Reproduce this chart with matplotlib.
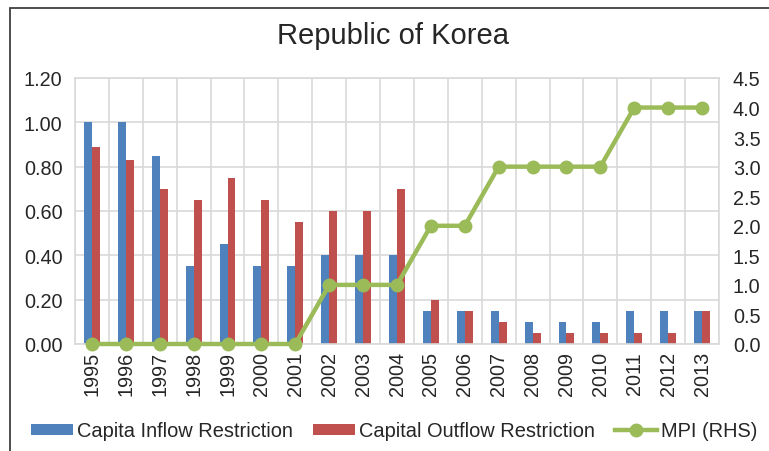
import matplotlib
matplotlib.use("Agg")
import matplotlib.pyplot as plt
from matplotlib.patches import Rectangle
import numpy as np

plt.rcParams['font.family'] = ['Liberation Sans', 'DejaVu Sans']

years = ["1995", "1996", "1997", "1998", "1999", "2000", "2001", "2002", "2003", "2004",
         "2005", "2006", "2007", "2008", "2009", "2010", "2011", "2012", "2013"]
inflow = [1.00, 1.00, 0.85, 0.35, 0.45, 0.35, 0.35, 0.40, 0.40, 0.40,
          0.15, 0.15, 0.15, 0.10, 0.10, 0.10, 0.15, 0.15, 0.15]
outflow = [0.89, 0.83, 0.70, 0.65, 0.75, 0.65, 0.55, 0.60, 0.60, 0.70,
           0.20, 0.15, 0.10, 0.05, 0.05, 0.05, 0.05, 0.05, 0.15]
mpi = [0, 0, 0, 0, 0, 0, 0, 1, 1, 1, 2, 2, 3, 3, 3, 3, 4, 4, 4]

left_ticks = [0.0, 0.2, 0.4, 0.6, 0.8, 1.0, 1.2]
right_ticks = [0.0, 0.5, 1.0, 1.5, 2.0, 2.5, 3.0, 3.5, 4.0, 4.5]

BLUE = "#4F81BD"
RED = "#C0504D"
GREEN = "#9BBB59"
GRID = "#D9D9D9"
TXT = "#262626"

W, H = 769, 452
fig = plt.figure(figsize=(W / 100, H / 100), dpi=100)
ax = fig.add_axes([75 / W, 1 - 345 / H, (719 - 75) / W, (345 - 79) / H])

x = np.arange(len(years))
bw = 0.235
ax.bar(x - bw / 2, inflow, width=bw, color=BLUE, zorder=2, label="Capita Inflow Restriction")
ax.bar(x + bw / 2, outflow, width=bw, color=RED, zorder=2, label="Capital Outflow Restriction")

ax.set_xlim(-0.5, len(years) - 0.5)
ax.set_ylim(0, 1.2)
ax.set_yticks(left_ticks)
ax.set_yticklabels([f"{v:.2f}" for v in left_ticks])
ax.set_xticks(x)
ax.set_xticklabels(years, rotation=90)
ax.set_xticks(np.arange(-0.5, len(years), 1.0), minor=True)
ax.grid(True, axis='y', which='major', color=GRID, linewidth=1.2, zorder=0)
ax.grid(True, axis='x', which='minor', color=GRID, linewidth=1.2, zorder=0)
ax.grid(False, axis='x', which='major')
ax.set_axisbelow(True)
ax.tick_params(axis='both', which='both', length=0, labelsize=14.3, colors=TXT)
ax.tick_params(axis='y', pad=9)
ax.tick_params(axis='x', pad=5)
for s in ax.spines.values():
    s.set_color(GRID)
    s.set_linewidth(1.2)

ax2 = ax.twinx()
ax2.plot(x, mpi, color=GREEN, linewidth=3.2, marker='o', markersize=9,
         clip_on=False, zorder=3, label="MPI (RHS)")
ax2.set_ylim(0, 4.5)
ax2.set_yticks(right_ticks)
ax2.set_yticklabels([f"{v:.1f}" for v in right_ticks])
ax2.tick_params(axis='y', length=0, labelsize=14.3, colors=TXT, pad=10)
for s in ax2.spines.values():
    s.set_visible(False)

fig.text(393 / W, 1 - 36 / H, "Republic of Korea", ha='center', va='center',
         fontsize=21, color=TXT)

h1, l1 = ax.get_legend_handles_labels()
h2, l2 = ax2.get_legend_handles_labels()
leg = fig.legend(h1 + h2, l1 + l2, loc='center', bbox_to_anchor=(394 / W, 1 - 432 / H),
                 ncol=3, frameon=False, fontsize=14.4, handlelength=2.1, handleheight=0.5,
                 handletextpad=0.2, columnspacing=1.0, borderaxespad=0, borderpad=0)
for t in leg.get_texts():
    t.set_color(TXT)

fig.patches.append(Rectangle((9.5 / W, -0.1), 1.2, 1 - 8.5 / H + 0.1,
                             transform=fig.transFigure, fill=False,
                             edgecolor="#404040", linewidth=1.3))

fig.savefig("out.png", dpi=100, facecolor='white')
